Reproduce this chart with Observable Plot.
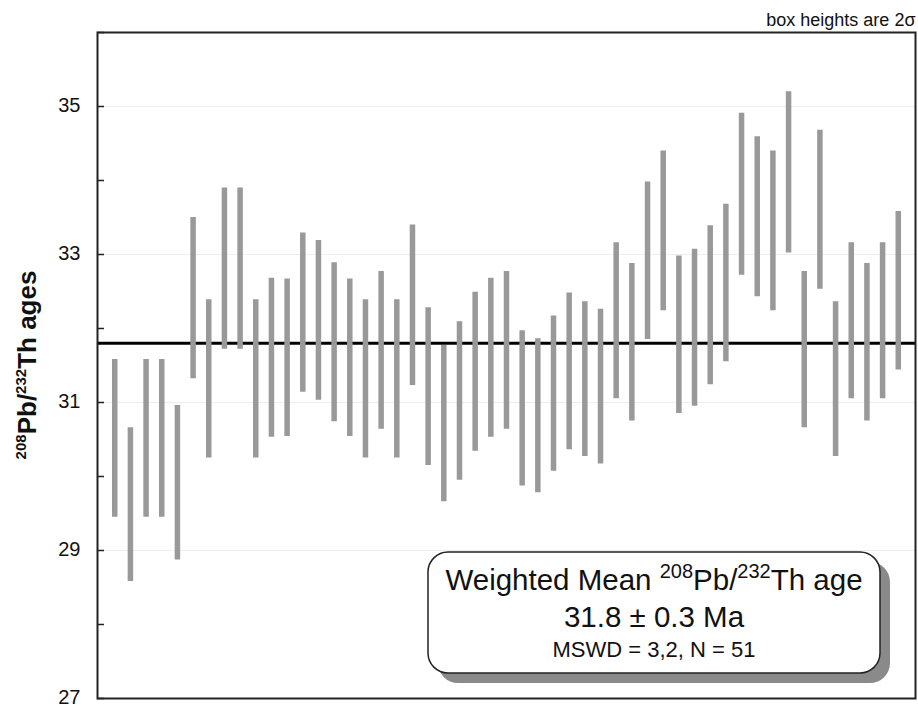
<!DOCTYPE html>
<html><head><meta charset="utf-8">
<script src="https://cdn.jsdelivr.net/npm/d3@7"></script>
<script src="https://cdn.jsdelivr.net/npm/@observablehq/plot@0.6"></script>
<style>body{margin:0;background:#fff;} #chart{width:918px;height:707px;}</style>
</head><body><div id="chart"></div>
<script>
const grains = d3.range(1, 52);
const hi = [31.58,30.66,31.58,31.58,30.96,33.50,32.39,33.90,33.90,32.39,32.68,32.67,33.29,33.19,32.89,32.67,32.39,32.77,32.39,33.40,32.28,31.77,32.09,32.49,32.68,32.77,31.97,31.86,32.17,32.48,32.36,32.26,33.16,32.88,33.98,34.40,32.98,33.07,33.39,33.68,34.91,34.59,34.40,35.20,32.77,34.68,32.36,33.16,32.88,33.16,33.58];
const lo = [29.45,28.58,29.45,29.45,28.87,31.32,30.25,31.72,31.72,30.25,30.53,30.54,31.14,31.03,30.74,30.54,30.25,30.64,30.25,31.23,30.15,29.66,29.95,30.34,30.53,30.64,29.87,29.78,30.07,30.36,30.27,30.17,31.05,30.75,31.85,32.24,30.85,30.95,31.24,31.55,32.72,32.43,32.24,33.02,30.66,32.53,30.27,31.05,30.75,31.05,31.44];
const meanAge = 31.8;
const meanErr = 0.3;
const mswdText = "3,2";
const nGrains = 51;
const yLabelTicks = [27, 29, 31, 33, 35];
const yMinorTicks = [27, 28, 29, 30, 31, 32, 33, 34, 35, 36];
const noteText = "box heights are 2σ";

const rows = grains.map((g, i) => ({g, lo: lo[i], hi: hi[i]}));
const font = "'Liberation Sans', Arial, sans-serif";

const plot = Plot.plot({
  width: 918, height: 707,
  marginLeft: 97, marginRight: 3, marginTop: 32, marginBottom: 9,
  style: {fontFamily: font, background: "#fff", overflow: "visible"},
  x: {domain: [-0.1, 52.1], axis: null},
  y: {domain: [27, 36]},
  marks: [
    Plot.ruleY(yLabelTicks, {stroke: "#eee", strokeWidth: 1}),
    Plot.ruleY([meanAge], {stroke: "#000", strokeWidth: 3}),
    Plot.ruleX(rows, {x: "g", y1: "lo", y2: "hi", stroke: "#999", strokeWidth: 5.5}),
    Plot.axisY({ticks: yMinorTicks, tickSize: 7, dx: 7, tickFormat: () => "", stroke: "#222", strokeWidth: 1.5, label: null}),
    Plot.axisY({ticks: yLabelTicks, tickSize: 0, tickPadding: 17, fontSize: 20, fill: "#111", label: null, dy: -1}),
    Plot.frame({stroke: "#222", strokeWidth: 2}),
    Plot.text([noteText], {frameAnchor: "top-right", textAnchor: "end", lineAnchor: "bottom", dy: -7, fontSize: 18, fill: "#111"})
  ]
});
document.getElementById("chart").appendChild(plot);

const svg = d3.select(plot);
// y-axis label
const yl = svg.append("text")
  .attr("transform", "translate(36,365) rotate(-90)")
  .attr("text-anchor", "middle")
  .attr("font-family", font).attr("font-weight", "bold").attr("font-size", 26).attr("fill", "#111");
yl.append("tspan").attr("font-size", 15).attr("dy", -10).text("208");
yl.append("tspan").attr("dy", 10).text("Pb/");
yl.append("tspan").attr("font-size", 15).attr("dy", -10).text("232");
yl.append("tspan").attr("dy", 10).text("Th ages");

// summary box
const bx = 428, by = 552, bw = 452, bh = 121;
svg.append("rect").attr("x", bx + 10).attr("y", by + 10).attr("width", bw).attr("height", bh)
  .attr("rx", 20).attr("fill", "#8a8a8a");
svg.append("rect").attr("x", bx).attr("y", by).attr("width", bw).attr("height", bh)
  .attr("rx", 20).attr("fill", "#fff").attr("stroke", "#222").attr("stroke-width", 1.5);
const cx = bx + bw / 2;
const t1 = svg.append("text").attr("x", cx).attr("y", by + 38).attr("text-anchor", "middle")
  .attr("font-family", font).attr("font-size", 29.5).attr("fill", "#111");
t1.append("tspan").text("Weighted Mean ");
t1.append("tspan").attr("font-size", 20).attr("dy", -12).text("208");
t1.append("tspan").attr("dy", 12).text("Pb/");
t1.append("tspan").attr("font-size", 20).attr("dy", -12).text("232");
t1.append("tspan").attr("dy", 12).text("Th age");
svg.append("text").attr("x", cx).attr("y", by + 75).attr("text-anchor", "middle")
  .attr("font-family", font).attr("font-size", 29.5).attr("fill", "#111")
  .text(`${meanAge.toFixed(1)} ± ${meanErr.toFixed(1)} Ma`);
svg.append("text").attr("x", cx).attr("y", by + 105).attr("text-anchor", "middle")
  .attr("font-family", font).attr("font-size", 22).attr("fill", "#111")
  .text(`MSWD = ${mswdText}, N = ${nGrains}`);
</script>
</body></html>
